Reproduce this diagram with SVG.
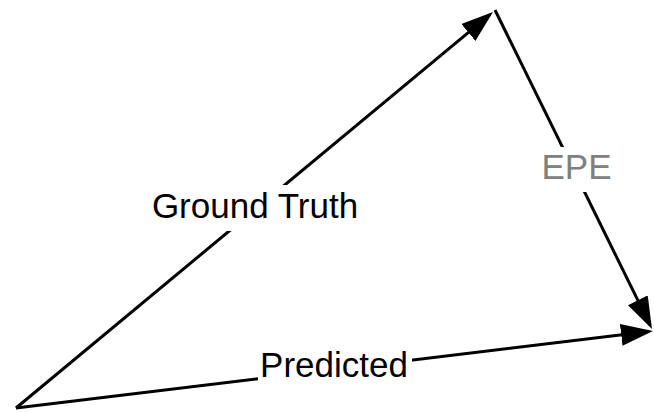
<svg xmlns="http://www.w3.org/2000/svg" width="654" height="412" viewBox="0 0 654 412">
  <defs>
    <marker id="arrow" markerUnits="userSpaceOnUse" markerWidth="34" markerHeight="24" refX="28" refY="11" orient="auto">
      <path d="M0,0 L32,11 L0,22 Z" fill="#000"/>
    </marker>
    <style>
      .edge { stroke: #000; stroke-width: 3; fill: none; marker-end: url(#arrow); }
      .lbl { font-family: "Liberation Sans", Arial, sans-serif; font-size: 35px; text-anchor: middle; }
      .bg { fill: #fff; }
    </style>
  </defs>
  <rect width="654" height="412" fill="#fff"/>
  <g id="connectors">
    <line class="edge" x1="16" y1="408" x2="489.9" y2="14.6"/>
    <line class="edge" x1="495" y1="10" x2="650.2" y2="325.4"/>
    <line class="edge" x1="16" y1="408" x2="649" y2="331.5"/>
  </g>
  <g id="label-ground-truth">
    <rect class="bg" x="148" y="185" width="214" height="46"/>
    <text class="lbl" x="255" y="218" fill="#000">Ground Truth</text>
  </g>
  <g id="label-epe">
    <rect class="bg" x="540" y="147" width="73" height="45"/>
    <text class="lbl" x="576.5" y="179" fill="#808080">EPE</text>
  </g>
  <g id="label-predicted">
    <rect class="bg" x="258" y="350" width="154" height="36"/>
    <text class="lbl" x="334" y="377" fill="#000">Predicted</text>
  </g>
</svg>
